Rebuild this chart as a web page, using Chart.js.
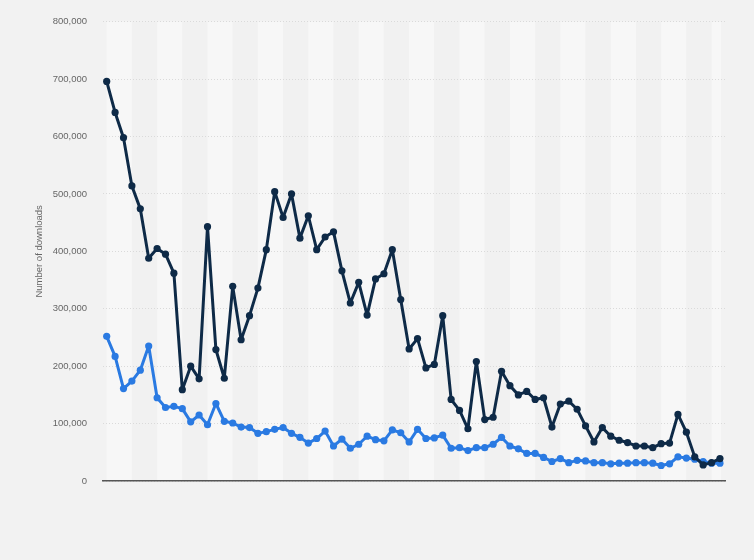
<!DOCTYPE html>
<html lang="en">
<head>
  <meta charset="UTF-8">
  <title>Number of downloads</title>
  <script src="https://cdn.jsdelivr.net/npm/chart.js"></script>
  <style>
    html, body { margin: 0; padding: 0; background: #f2f2f2; }
    #wrap { width: 754px; height: 560px; position: relative; }
  </style>
</head>
<body>
  <div id="wrap"><canvas id="downloadsChart"></canvas></div>

  <script>
    // values, one entry per period
    const seriesDark = [
      696000, 642000, 598000, 514000, 474000, 388000, 405000, 395000, 362000, 159000,
      200000, 178000, 443000, 229000, 179000, 339000, 246000, 288000, 336000, 403000,
      504000, 459000, 500000, 423000, 462000, 403000, 425000, 434000, 366000, 310000,
      346000, 289000, 352000, 361000, 403000, 316000, 230000, 248000, 197000, 203000,
      288000, 142000, 123000, 91000, 208000, 107000, 111000, 191000, 166000, 150000,
      156000, 142000, 145000, 94000, 134000, 139000, 125000, 96000, 68000, 93000,
      78000, 71000, 67000, 61000, 61000, 58000, 65000, 66000, 116000, 85000,
      42000, 28000, 32000, 39000
    ];
    const seriesBlue = [
      252000, 217000, 161000, 174000, 193000, 235000, 145000, 128000, 130000, 126000,
      103000, 115000, 98000, 135000, 104000, 101000, 94000, 93000, 83000, 86000,
      90000, 93000, 83000, 76000, 66000, 74000, 87000, 61000, 73000, 57000,
      64000, 78000, 72000, 70000, 89000, 84000, 68000, 90000, 74000, 75000,
      80000, 57000, 58000, 53000, 58000, 58000, 64000, 76000, 61000, 56000,
      48000, 48000, 41000, 34000, 39000, 32000, 36000, 35000, 32000, 32000,
      30000, 31000, 31000, 32000, 32000, 31000, 27000, 30000, 42000, 40000,
      38000, 34000, 31000, 31000
    ];
    // the reference shows no x labels, so periods are just numbered
    const periods = seriesDark.map((_, i) => String(i + 1));
    const yTicks = [0, 100000, 200000, 300000, 400000, 500000, 600000, 700000, 800000];

    const toPoints = arr => arr.map((v, i) => ({ x: i, y: v }));

    // page background plus alternating column bands behind the plot
    const bandsPlugin = {
      id: 'bands',
      beforeDraw(chart) {
        const { ctx, chartArea, scales } = chart;
        ctx.save();
        ctx.fillStyle = '#f2f2f2';
        ctx.fillRect(0, 0, chart.width, chart.height);
        const x = scales.x;
        const last = x.getPixelForValue(periods.length - 1) + 1;
        for (let i = 0; i < periods.length; i += 3) {
          const x0 = x.getPixelForValue(i);
          const x1 = Math.min(x.getPixelForValue(i + 3), last);
          if (x0 >= last) break;
          ctx.fillStyle = (i / 3) % 2 === 0 ? '#f7f7f7' : '#f1f1f1';
          ctx.fillRect(x0, chartArea.top, x1 - x0, chartArea.bottom - chartArea.top);
        }
        ctx.restore();
      }
    };

    const lineStyle = color => ({
      borderColor: color,
      backgroundColor: color,
      pointBackgroundColor: color,
      pointBorderColor: color,
      pointBorderWidth: 0,
      borderWidth: 3,
      borderJoinStyle: 'round',
      borderCapStyle: 'round',
      pointRadius: 3.6,
      pointHoverRadius: 5,
      tension: 0
    });

    const ctx = document.getElementById('downloadsChart').getContext('2d');
    const chart = new Chart(ctx, {
      type: 'line',
      data: {
        datasets: [
          Object.assign({ label: 'Series 1', data: toPoints(seriesDark) }, lineStyle('#0e2a47')),
          Object.assign({ label: 'Series 2', data: toPoints(seriesBlue) }, lineStyle('#2a7ae2'))
        ]
      },
      options: {
        responsive: true,
        maintainAspectRatio: false,
        animation: false,
        layout: { padding: { left: 0, right: 29, top: 20, bottom: 79 } },
        plugins: {
          legend: { display: false },
          tooltip: {
            callbacks: {
              title: items => 'Period ' + periods[items[0].parsed.x]
            }
          }
        },
        scales: {
          x: {
            type: 'linear',
            min: -0.44,
            max: 73.6,
            ticks: { display: false },
            grid: { display: false },
            border: { display: true, color: '#555', width: 1.5 },
            afterFit: s => { s.height = 0; }
          },
          y: {
            min: 0,
            max: 800000,
            afterBuildTicks: s => { s.ticks = yTicks.map(v => ({ value: v })); },
            ticks: {
              padding: 16,
              color: '#666',
              font: { family: 'Liberation Sans, Arial, sans-serif', size: 9.5 },
              callback: v => v.toLocaleString('en-US')
            },
            grid: { color: '#dadada', lineWidth: 1, drawTicks: false },
            border: { display: false, dash: [1, 2] },
            title: {
              display: true,
              text: 'Number of downloads',
              color: '#666',
              font: { family: 'Liberation Sans, Arial, sans-serif', size: 9.5 },
              padding: { top: 34, bottom: 0 }
            },
            afterFit: s => { s.width = 103; }
          }
        }
      },
      plugins: [bandsPlugin]
    });
  </script>
</body>
</html>
